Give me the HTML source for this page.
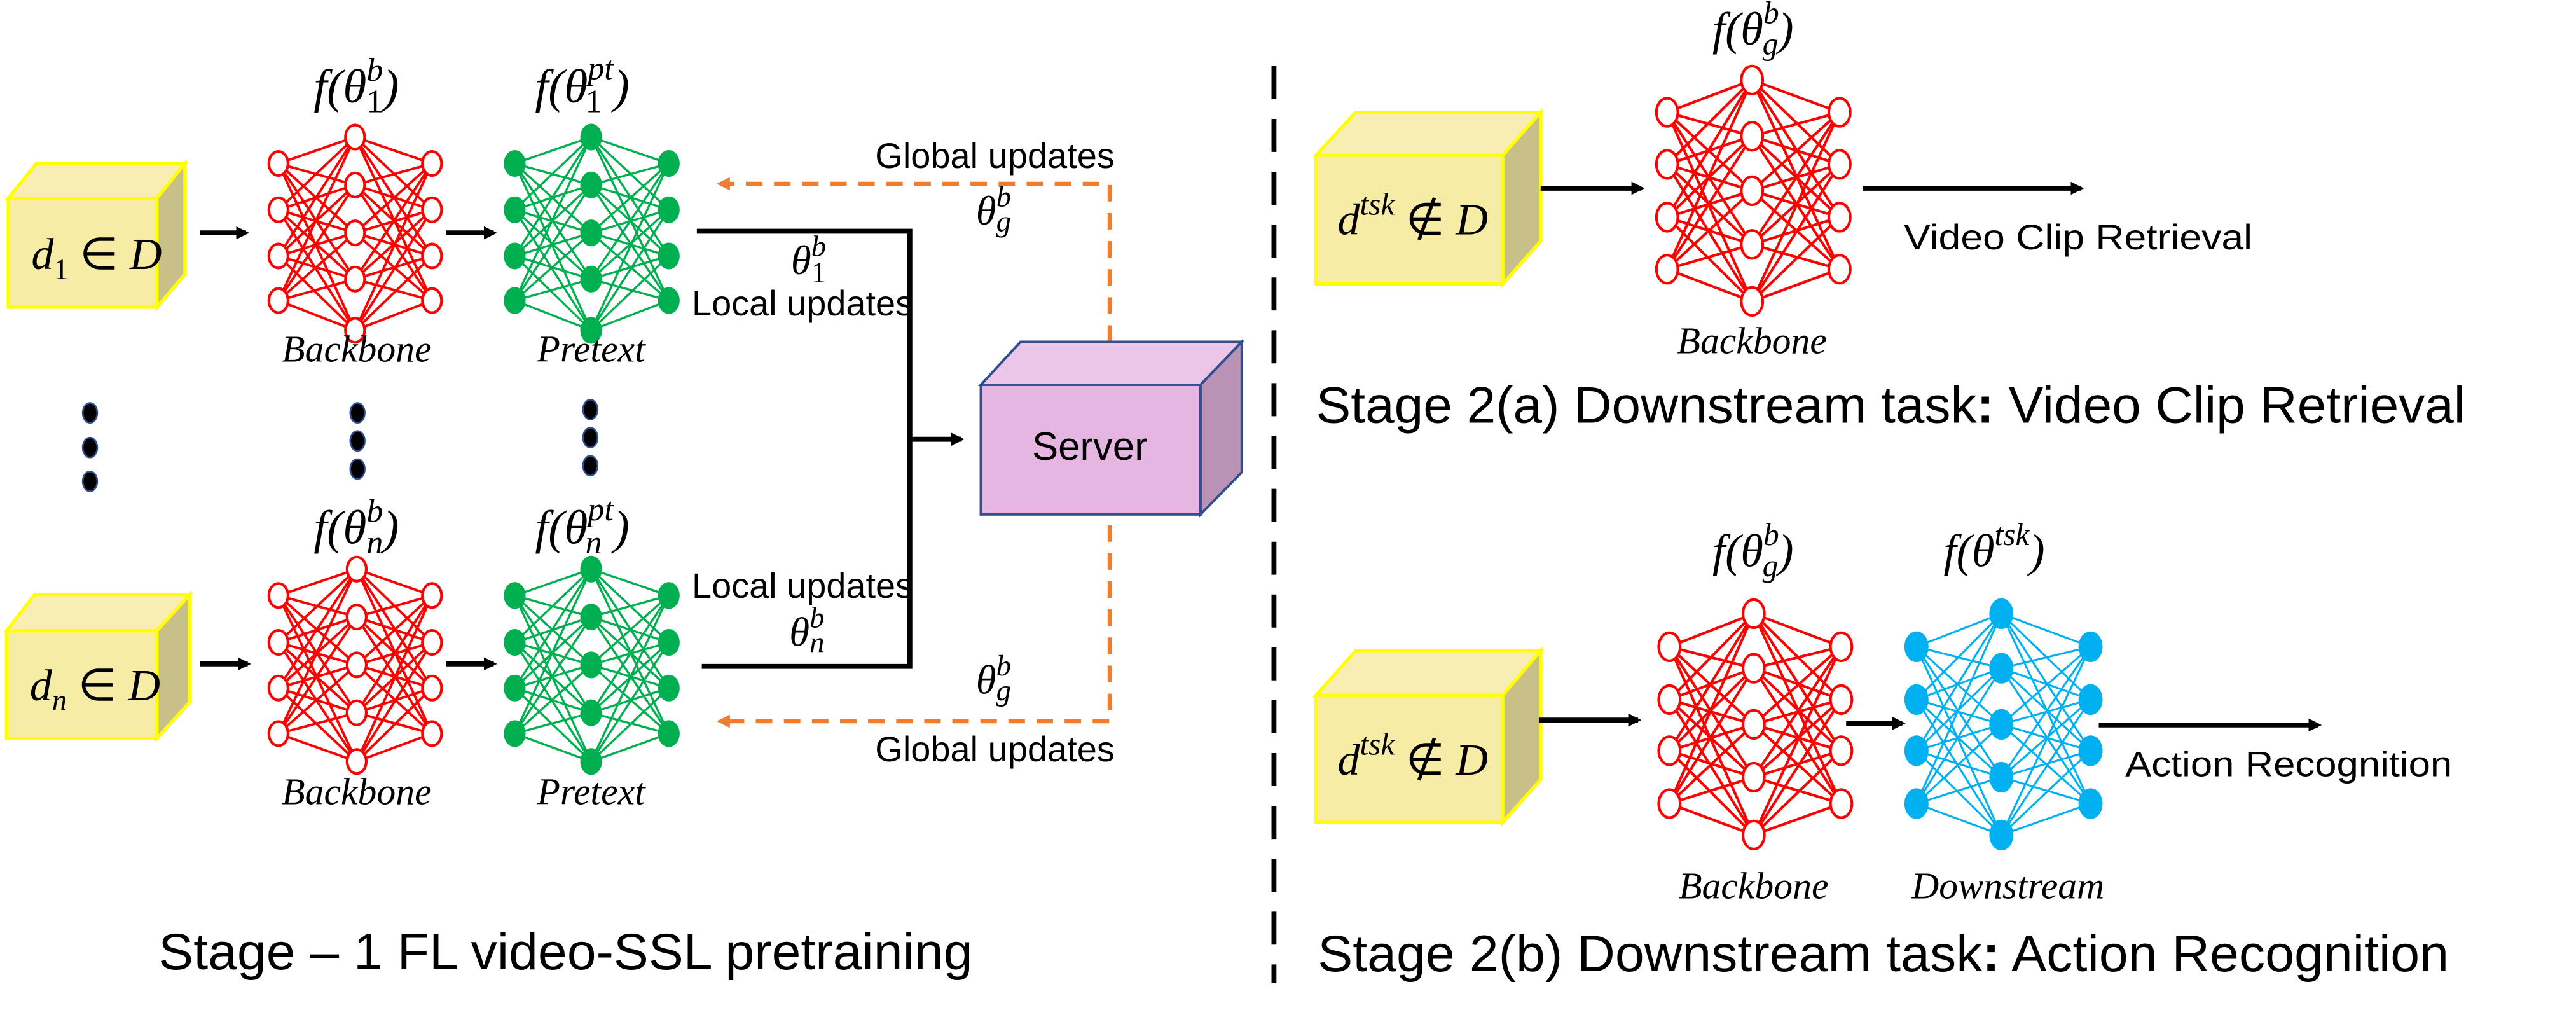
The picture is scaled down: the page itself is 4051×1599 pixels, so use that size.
<!DOCTYPE html>
<html><head><meta charset="utf-8"><style>
html,body{margin:0;padding:0;background:#fff;}
svg{display:block;}
.s{font-family:"Liberation Sans",sans-serif;fill:#000;}
.m{font-family:"Liberation Serif",serif;font-style:italic;fill:#000;}
</style></head><body>
<svg id="sv" xmlns="http://www.w3.org/2000/svg" width="4051" height="1599" viewBox="0 0 1560 615.8" preserveAspectRatio="none">
<rect width="1560" height="616" fill="#fff"/>
<defs>
<marker id="ab" markerWidth="8" markerHeight="8" refX="6" refY="4" orient="auto" markerUnits="userSpaceOnUse"><path d="M0,0 L8,4 L0,8 Z" fill="#000"/></marker>
<marker id="ao" markerWidth="8" markerHeight="8" refX="6" refY="4" orient="auto" markerUnits="userSpaceOnUse"><path d="M0,0 L8,4 L0,8 Z" fill="#ed7d31"/></marker>
</defs>

<g stroke="#ffff00" stroke-width="2">
<polygon points="5,120 22,99 112,99 95,120" fill="#f8eeb4"/>
<polygon points="95,120 112,99 112,166 95,186" fill="#c8c088"/>
<rect x="5" y="120" width="90" height="66" fill="#f7eca6"/>

<polygon points="4,382 21,360 115,360 95,382" fill="#f8eeb4"/>
<polygon points="95,382 115,360 115,425 95,447" fill="#c8c088"/>
<rect x="4" y="382" width="91" height="65" fill="#f7eca6"/>

<polygon points="797,94 821,68 933,68 910,94" fill="#f8eeb4"/>
<polygon points="910,94 933,68 933,146 910,172" fill="#c8c088"/>
<rect x="797" y="94" width="113" height="78" fill="#f7eca6"/>

<polygon points="797,421 821,394 933,394 910,421" fill="#f8eeb4"/>
<polygon points="910,421 933,394 933,472 910,498" fill="#c8c088"/>
<rect x="797" y="421" width="113" height="77" fill="#f7eca6"/>
</g>

<text class="m" x="19" y="163" font-size="27">d<tspan font-size="18" dy="6" font-style="normal">1</tspan><tspan dy="-6" font-style="normal"> ∈ </tspan>D</text>
<text class="m" x="18" y="424" font-size="27">d<tspan font-size="18" dy="6">n</tspan><tspan dy="-6" font-style="normal"> ∈ </tspan>D</text>
<text class="m" x="810" y="142" font-size="27">d<tspan font-size="19" dy="-12">tsk</tspan><tspan dy="12" font-style="normal"> ∉ </tspan>D</text>
<text class="m" x="810" y="469" font-size="27">d<tspan font-size="19" dy="-12">tsk</tspan><tspan dy="12" font-style="normal"> ∉ </tspan>D</text>

<g id="nets"></g>

<g fill="#000" stroke="#2f4f8f" stroke-width="1">
<ellipse cx="54.5" cy="250" rx="4.4" ry="6"/><ellipse cx="54.5" cy="271" rx="4.4" ry="6"/><ellipse cx="54.5" cy="291.5" rx="4.4" ry="6"/>
<ellipse cx="216.5" cy="250" rx="4.4" ry="6"/><ellipse cx="216.5" cy="267" rx="4.4" ry="6"/><ellipse cx="216.5" cy="284" rx="4.4" ry="6"/>
<ellipse cx="357.5" cy="248" rx="4.4" ry="6"/><ellipse cx="357.5" cy="265" rx="4.4" ry="6"/><ellipse cx="357.5" cy="282" rx="4.4" ry="6"/>
</g>

<g stroke="#000" stroke-width="3" fill="none">
<line x1="121" y1="141" x2="149" y2="141" marker-end="url(#ab)"/>
<line x1="270" y1="141" x2="299" y2="141" marker-end="url(#ab)"/>
<line x1="121" y1="402" x2="150" y2="402" marker-end="url(#ab)"/>
<line x1="270" y1="402" x2="299" y2="402" marker-end="url(#ab)"/>
<polyline points="422,140 551,140 551,403.5 425,403.5"/>
<line x1="551" y1="266" x2="582" y2="266" marker-end="url(#ab)"/>
<line x1="933" y1="114" x2="994" y2="114" marker-end="url(#ab)"/>
<line x1="1128" y1="114" x2="1260" y2="114" marker-end="url(#ab)"/>
<line x1="932" y1="436" x2="992" y2="436" marker-end="url(#ab)"/>
<line x1="1118" y1="438" x2="1152" y2="438" marker-end="url(#ab)"/>
<line x1="1271" y1="439" x2="1404" y2="439" marker-end="url(#ab)"/>
</g>

<g stroke="#ed7d31" stroke-width="2.5" fill="none" stroke-dasharray="10,7">
<polyline points="672,207 672,111.3 436,111.3" marker-end="url(#ao)"/>
<polyline points="672,318 672,436.7 436,436.7" marker-end="url(#ao)"/>
</g>

<g stroke="#2f4f8f" stroke-width="1.5">
<polygon points="594,233 618,207 752,207 727,233" fill="#ecc6e8"/>
<polygon points="727,233 752,207 752,286 727,311.5" fill="#b992b6"/>
<rect x="594" y="233" width="133" height="78.5" fill="#e5b6e1"/>
</g>
<text class="s" x="625" y="278.5" font-size="24" textLength="70" lengthAdjust="spacingAndGlyphs">Server</text>

<line x1="771.5" y1="40" x2="771.5" y2="595" stroke="#000" stroke-width="3" stroke-dasharray="20,12"/>

<text class="s" x="530" y="101.6" font-size="21.5" textLength="145" lengthAdjust="spacingAndGlyphs">Global updates</text>
<text class="s" x="419" y="191" font-size="21.5" textLength="134" lengthAdjust="spacingAndGlyphs">Local updates</text>
<text class="s" x="419" y="362" font-size="21.5" textLength="134" lengthAdjust="spacingAndGlyphs">Local updates</text>
<text class="s" x="530" y="461" font-size="21.5" textLength="145" lengthAdjust="spacingAndGlyphs">Global updates</text>

<text class="m" x="479" y="166" font-size="25">θ<tspan font-size="18" dy="-11">b</tspan><tspan font-size="18" dx="-9" dy="16" font-style="normal">1</tspan></text>
<text class="m" x="478" y="391" font-size="25">θ<tspan font-size="18" dy="-11">b</tspan><tspan font-size="18" dx="-9" dy="15">n</tspan></text>
<text class="m" x="591" y="136" font-size="25">θ<tspan font-size="18" dy="-11">b</tspan><tspan font-size="18" dx="-9" dy="15">g</tspan></text>
<text class="m" x="591" y="420" font-size="25">θ<tspan font-size="18" dy="-11">b</tspan><tspan font-size="18" dx="-9" dy="15">g</tspan></text>

<text class="m" x="190" y="62" font-size="29">f(θ<tspan font-size="20" dy="-13">b</tspan><tspan font-size="20" dx="-10" dy="19" font-style="normal">1</tspan><tspan dy="-6">)</tspan></text>
<text class="m" x="324" y="62" font-size="29">f(θ<tspan font-size="20" dy="-14">pt</tspan><tspan font-size="20" dx="-17" dy="20" font-style="normal">1</tspan><tspan dx="7" dy="-6">)</tspan></text>
<text class="m" x="190" y="329" font-size="29">f(θ<tspan font-size="20" dy="-13">b</tspan><tspan font-size="20" dx="-10" dy="19">n</tspan><tspan dy="-6">)</tspan></text>
<text class="m" x="324" y="329" font-size="29">f(θ<tspan font-size="20" dy="-14">pt</tspan><tspan font-size="20" dx="-17" dy="20">n</tspan><tspan dx="7" dy="-6">)</tspan></text>
<text class="m" x="1037" y="27" font-size="28">f(θ<tspan font-size="19" dy="-13">b</tspan><tspan font-size="19" dx="-10" dy="19">g</tspan><tspan dy="-6">)</tspan></text>
<text class="m" x="1037" y="343" font-size="28">f(θ<tspan font-size="19" dy="-13">b</tspan><tspan font-size="19" dx="-10" dy="19">g</tspan><tspan dy="-6">)</tspan></text>
<text class="m" x="1177" y="343" font-size="28">f(θ<tspan font-size="19" dy="-13">tsk</tspan><tspan dy="13">)</tspan></text>

<text class="m" x="216" y="219" font-size="23" text-anchor="middle">Backbone</text>
<text class="m" x="358" y="219" font-size="23" text-anchor="middle">Pretext</text>
<text class="m" x="216" y="487" font-size="23" text-anchor="middle">Backbone</text>
<text class="m" x="358" y="487" font-size="23" text-anchor="middle">Pretext</text>
<text class="m" x="1061" y="214" font-size="23" text-anchor="middle">Backbone</text>
<text class="m" x="1062" y="544" font-size="23" text-anchor="middle">Backbone</text>
<text class="m" x="1216" y="544" font-size="23" text-anchor="middle">Downstream</text>

<text class="s" x="1153" y="151" font-size="21.5" textLength="211" lengthAdjust="spacingAndGlyphs">Video Clip Retrieval</text>
<text class="s" x="1287" y="470" font-size="21.5" textLength="198" lengthAdjust="spacingAndGlyphs">Action Recognition</text>

<text class="s" x="96" y="587" font-size="31" textLength="493" lengthAdjust="spacingAndGlyphs">Stage – 1 FL video-SSL pretraining</text>
<text class="s" x="797" y="256" font-size="31" textLength="696" lengthAdjust="spacingAndGlyphs">Stage 2(a) Downstream task<tspan font-weight="bold">:</tspan> Video Clip Retrieval</text>
<text class="s" x="798" y="588" font-size="31" textLength="685" lengthAdjust="spacingAndGlyphs">Stage 2(b) Downstream task<tspan font-weight="bold">:</tspan> Action Recognition</text>
</svg>
<script>
(function(){
var NS="http://www.w3.org/2000/svg",g=document.getElementById("nets");
function el(n,a){var e=document.createElementNS(NS,n);for(var k in a)e.setAttribute(k,a[k]);g.appendChild(e);return e;}
function net(lx,mx,rx,cy,mo,so,erx,ery,col,filled,sw){
  var L=so.map(function(o){return [lx,cy+o]}),R=so.map(function(o){return [rx,cy+o]}),M=mo.map(function(o){return [mx,cy+o]});
  M.forEach(function(m){L.concat(R).forEach(function(p){el("line",{x1:p[0],y1:p[1],x2:m[0],y2:m[1],stroke:col,"stroke-width":sw});});});
  L.concat(R).concat(M).forEach(function(p){el("ellipse",{cx:p[0],cy:p[1],rx:erx,ry:ery,fill:filled?col:"#fff",stroke:col,"stroke-width":1.6});});
}
var mo1=[-58,-29,0,28,59],so1=[-42,-14,14,41];
net(168.6,215,261.6,141,mo1,so1,5.8,7.3,"#ff0000",false,1.5);
net(311.7,358,405,141,mo1,so1,5.8,7.3,"#00b050",true,1.3);
var mo2=[-58,-29,0,29,58.5],so2=[-42,-13.6,14,41.6];
net(168.6,216,261.6,402.6,mo2,so2,5.8,7.3,"#ff0000",false,1.5);
net(311.7,358,405,402.6,mo2,so2,5.8,7.3,"#00b050",true,1.3);
var mo3=[-67,-33,0,32.5,67],so3=[-47.5,-16,16,47.5];
net(1009.6,1061,1114,115.5,mo3,so3,6.5,8.5,"#ff0000",false,1.6);
var mo4=[-67,-34,0,32,67],so4=[-47,-15,16,48];
net(1011,1062,1115,438.6,mo4,so4,6.5,8.5,"#ff0000",false,1.6);
net(1160.6,1212,1266,438.6,mo4,so4,6.5,8.5,"#00b0f0",true,1.2);
})();
</script>
</body></html>
